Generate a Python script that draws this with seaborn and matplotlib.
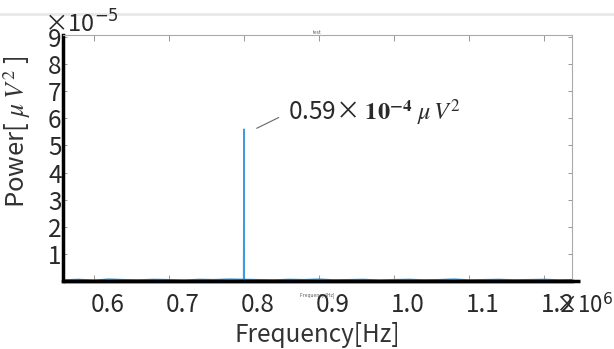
import numpy as np
import pandas as pd
import matplotlib
matplotlib.use('Agg')
import matplotlib.pyplot as plt
import matplotlib.transforms as mtransforms
from matplotlib.lines import Line2D
import seaborn as sns

# ---- data (frequency in 1e6 Hz, power in 1e-5 uV^2) ----
freq_mhz = [0.56, 0.58, 0.60, 0.62, 0.64, 0.66, 0.68, 0.70, 0.72, 0.74,
            0.76, 0.78, 0.7995, 0.80, 0.8005, 0.82, 0.84, 0.86, 0.88, 0.90,
            0.92, 0.94, 0.96, 0.98, 1.00, 1.02, 1.04, 1.06, 1.08, 1.10,
            1.12, 1.14, 1.16, 1.18, 1.20, 1.22, 1.237]
power_e5 = [0.04, 0.06, 0.03, 0.07, 0.05, 0.04, 0.06, 0.05, 0.03, 0.06,
            0.05, 0.07, 0.06, 5.60, 0.06, 0.05, 0.04, 0.06, 0.05, 0.07,
            0.04, 0.05, 0.06, 0.03, 0.05, 0.06, 0.04, 0.05, 0.07, 0.04,
            0.05, 0.06, 0.04, 0.05, 0.06, 0.04, 0.05]
xticks = [0.6, 0.7, 0.8, 0.9, 1.0, 1.1, 1.2]
yticks = [1, 2, 3, 4, 5, 6, 7, 8, 9]

sns.set_style("white")
plt.rcParams['font.family'] = ['Noto Sans CJK JP', 'DejaVu Sans']
plt.rcParams['axes.unicode_minus'] = False

df = pd.DataFrame({'freq': freq_mhz, 'power': power_e5})

fig = plt.figure(figsize=(6.14, 3.49), dpi=100)
ax = fig.add_axes([63/614, 1-281/349, (572-63)/614, (281-35)/349])

sns.lineplot(data=df, x='freq', y='power', ax=ax, color='#3d9be0',
             linewidth=1.0, sort=True, estimator=None)

ax.set_xlim(0.559, 1.237)
ax.set_ylim(0, 9.07)
ax.set_xticks(xticks)
ax.set_xticklabels([f'{v:.1f}' for v in xticks])
ax.set_yticks(yticks)
ax.set_yticklabels([str(v) for v in yticks])

ax.tick_params(axis='x', direction='in', length=4, width=0.6, color='#888888',
               top=True, bottom=True, labelsize=17.5, labelcolor='#2a2a2a', pad=8)
ax.tick_params(axis='y', direction='in', length=3, width=0.6, color='#888888',
               left=True, right=True, labelsize=17.5, labelcolor='#2a2a2a', pad=1)

# shift x tick labels slightly to the right like the reference
offset = mtransforms.ScaledTranslation(14/100, 0, fig.dpi_scale_trans)
for lab in ax.get_xticklabels():
    lab.set_transform(lab.get_transform() + offset)

for side in ['top', 'right']:
    ax.spines[side].set_color('#aaaaaa')
    ax.spines[side].set_linewidth(0.8)
ax.spines['left'].set_color('black')
ax.spines['left'].set_linewidth(2.5)
ax.spines['bottom'].set_color('black')
ax.spines['bottom'].set_linewidth(2.5)
ax.plot([0, 1.016], [0, 0], transform=ax.transAxes, clip_on=False,
        color='black', linewidth=2.5, solid_capstyle='butt')

ax.set_xlabel('Frequency[Hz]', fontsize=17.5, color='#333333')
ax.xaxis.set_label_coords(0.5, -0.165)
ax.set_ylabel(r'Power[ $\mu\;V^{2}$ ]', fontsize=18.5, color='#333333',
              math_fontfamily='stix')
ax.yaxis.set_label_coords(-0.058, 0.605)

# tiny original titles
ax.set_title('test', fontsize=3.5, color='#555555', pad=1)
ax.text(0.50, -0.045, 'Frequency [Hz]', transform=ax.transAxes, fontsize=3.5,
        ha='center', va='top', color='#555555')

# exponent texts
fig.text(44/614, 1-33/349, r'×10$^{-5}$', fontsize=17, color='#2a2a2a',
         va='baseline', math_fontfamily='dejavusans')
fig.text(555/614, 1-313/349, r'×10$^{6}$', fontsize=16, color='#2a2a2a',
         va='baseline', math_fontfamily='dejavusans')

# annotation of peak
ax.annotate(r'0.59× $\mathbf{10^{-4}}$ $\mu\,V^2$', xy=(0.817, 5.63),
            xytext=(0.859, 6.2), fontsize=17.5, color='#2a2a2a',
            va='center', ha='left', math_fontfamily='stix',
            arrowprops=dict(arrowstyle='-', color='#666666', lw=0.8,
                            shrinkA=5, shrinkB=0, relpos=(0, 0.5)))

fig.add_artist(Line2D([0, 1], [1-14/349, 1-14/349], color='#e8e8e8', lw=2))

plt.savefig('out.png', dpi=100)
plt.close()
